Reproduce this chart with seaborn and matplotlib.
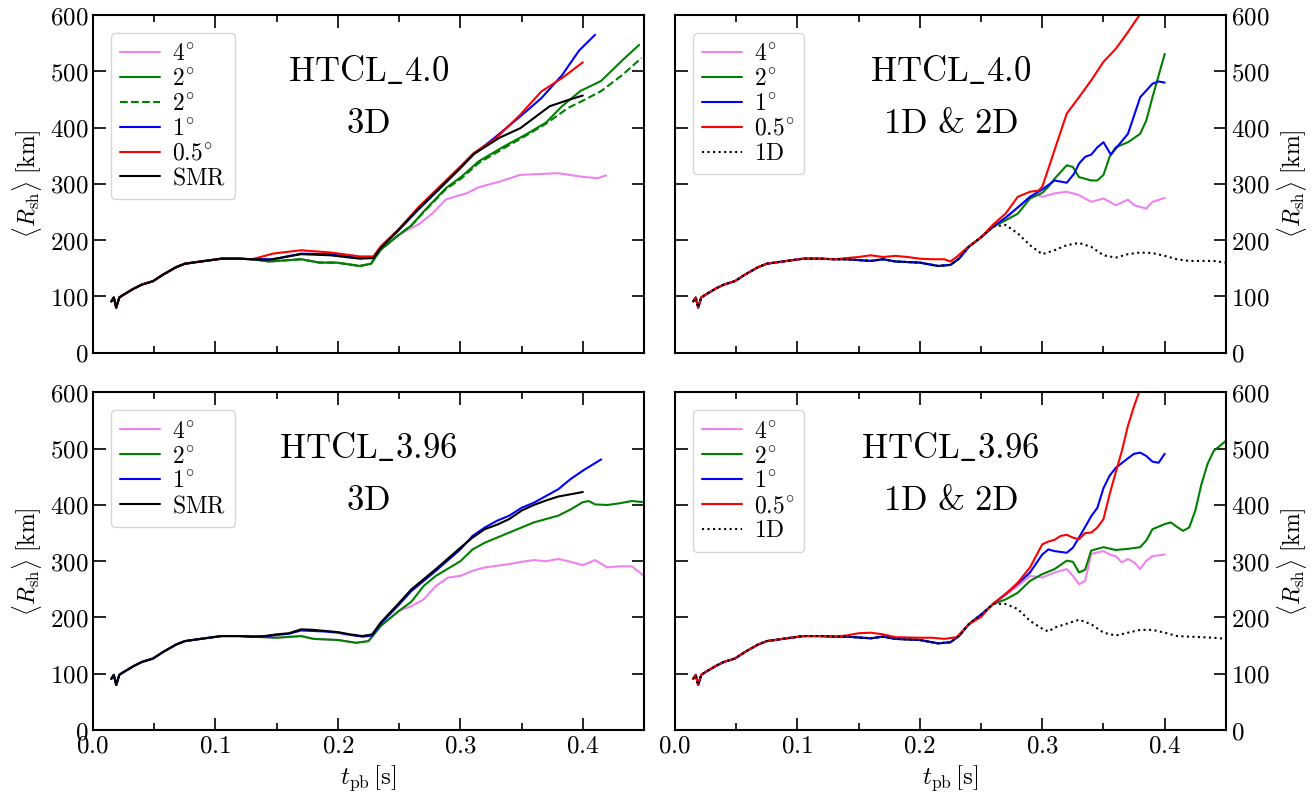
import matplotlib
matplotlib.use("Agg")
from matplotlib import pyplot as plt
from matplotlib.ticker import MultipleLocator, FuncFormatter
import seaborn as sns

# shared early phase (all runs identical)
t_base = [0.015, 0.017, 0.019, 0.0215, 0.025, 0.0335, 0.040, 0.049, 0.0575, 0.068, 0.075, 0.088, 0.105, 0.119, 0.13]
r_base = [91, 98, 80, 98, 103, 114, 121, 127, 139, 152, 158, 162, 167, 167, 166]

# HTCL_4.0 3D
tl_red_t = [0.147, 0.17, 0.194, 0.218, 0.229, 0.235, 0.249, 0.266, 0.283, 0.30, 0.311, 0.328, 0.349, 0.366, 0.383, 0.40]
tl_red_r = [176, 182, 178, 171, 171, 189, 218, 259, 295, 331, 355, 379, 423, 464, 488, 516]
tl_blue_t = [0.147, 0.17, 0.194, 0.218, 0.229, 0.235, 0.249, 0.266, 0.283, 0.30, 0.311, 0.328, 0.349, 0.366, 0.383, 0.397, 0.41]
tl_blue_r = [166, 176, 175, 168, 169, 187, 216, 255, 291, 328, 353, 382, 420, 452, 493, 537, 565]
tl_smr_t = [0.144, 0.17, 0.194, 0.218, 0.229, 0.235, 0.249, 0.266, 0.283, 0.30, 0.311, 0.332, 0.349, 0.373, 0.388, 0.40]
tl_smr_r = [165, 175, 173, 167, 168, 186, 217, 256, 292, 328, 353, 382, 399, 438, 449, 457]
tl_green_t = [0.144, 0.17, 0.185, 0.199, 0.218, 0.227, 0.235, 0.249, 0.26, 0.271, 0.288, 0.301, 0.315, 0.336, 0.353, 0.37, 0.383, 0.398, 0.415, 0.432, 0.446]
tl_green_r = [162, 166, 160, 160, 154, 158, 183, 208, 226, 253, 292, 313, 340, 367, 387, 409, 438, 465, 483, 519, 547]
tl_gdash_t = [0.144, 0.17, 0.185, 0.199, 0.218, 0.227, 0.235, 0.249, 0.26, 0.271, 0.288, 0.301, 0.315, 0.336, 0.353, 0.37, 0.388, 0.402, 0.415, 0.432, 0.448]
tl_gdash_r = [162, 166, 160, 160, 154, 158, 183, 208, 226, 252, 290, 310, 337, 364, 385, 407, 435, 450, 465, 493, 524]
tl_vio_t = [0.144, 0.17, 0.185, 0.199, 0.218, 0.227, 0.235, 0.249, 0.256, 0.266, 0.277, 0.288, 0.298, 0.305, 0.315, 0.332, 0.349, 0.37, 0.38, 0.398, 0.412, 0.419]
tl_vio_r = [162, 166, 160, 160, 154, 158, 183, 208, 217, 228, 247, 272, 279, 283, 294, 304, 316, 318, 319, 313, 310, 315]

# 1D & 2D: low plateau shared by 1D, 4, 2, 1 deg
low2d_t = [0.14, 0.16, 0.17, 0.18, 0.2, 0.215, 0.225, 0.232, 0.24, 0.25, 0.26]
low2d_r = [166, 163, 166, 162, 160, 154, 156, 167, 188, 205, 224]

# HTCL_4.0 1D & 2D
tr_red_t = [0.15, 0.16, 0.17, 0.18, 0.19, 0.2, 0.21, 0.22, 0.225, 0.23, 0.24, 0.25, 0.26, 0.27, 0.28, 0.29, 0.297, 0.30, 0.305, 0.31, 0.32, 0.33, 0.34, 0.35, 0.36, 0.37, 0.38]
tr_red_r = [170, 173, 170, 172, 170, 167, 166, 166, 162, 170, 189, 205, 228, 247, 277, 286, 288, 295, 327, 360, 425, 454, 484, 517, 540, 570, 602]
tr_green_t = [0.27, 0.28, 0.29, 0.30, 0.305, 0.31, 0.32, 0.325, 0.33, 0.34, 0.345, 0.35, 0.355, 0.36, 0.37, 0.38, 0.385, 0.39, 0.40]
tr_green_r = [235, 247, 274, 284, 295, 309, 333, 330, 312, 306, 306, 316, 348, 365, 374, 389, 413, 454, 531]
tr_blue_t = [0.27, 0.28, 0.29, 0.30, 0.31, 0.32, 0.326, 0.33, 0.335, 0.34, 0.345, 0.35, 0.356, 0.362, 0.37, 0.38, 0.39, 0.395, 0.40]
tr_blue_r = [240, 258, 277, 290, 306, 302, 318, 336, 348, 352, 365, 374, 352, 368, 389, 454, 478, 482, 480]
tr_vio_t = [0.27, 0.28, 0.29, 0.295, 0.30, 0.31, 0.32, 0.33, 0.34, 0.35, 0.36, 0.37, 0.375, 0.385, 0.39, 0.40]
tr_vio_r = [238, 258, 277, 281, 277, 283, 286, 280, 268, 274, 262, 272, 262, 256, 268, 275]
tr_1d_t = [0.27, 0.28, 0.29, 0.30, 0.31, 0.32, 0.33, 0.34, 0.35, 0.36, 0.37, 0.38, 0.39, 0.40, 0.41, 0.42, 0.44, 0.45]
tr_1d_r = [227, 212, 191, 175, 182, 191, 195, 188, 173, 169, 175, 178, 177, 172, 166, 163, 163, 160]

# HTCL_3.96 3D
bl_smr_t = [0.14, 0.15, 0.16, 0.17, 0.18, 0.19, 0.2, 0.21, 0.22, 0.228, 0.235, 0.25, 0.26, 0.28, 0.30, 0.31, 0.32, 0.33, 0.34, 0.35, 0.36, 0.37, 0.38, 0.39, 0.40]
bl_smr_r = [167, 170, 172, 179, 178, 176, 174, 170, 167, 170, 191, 226, 250, 286, 324, 342, 357, 365, 375, 390, 400, 408, 415, 419, 423]
bl_blue_t = [0.14, 0.15, 0.16, 0.17, 0.18, 0.19, 0.2, 0.21, 0.22, 0.228, 0.235, 0.25, 0.26, 0.28, 0.30, 0.31, 0.32, 0.33, 0.34, 0.35, 0.36, 0.37, 0.38, 0.39, 0.40, 0.415]
bl_blue_r = [166, 169, 171, 177, 176, 175, 173, 169, 166, 168, 189, 223, 247, 283, 321, 345, 360, 372, 381, 395, 404, 416, 428, 446, 461, 481]
bl_green_t = [0.14, 0.15, 0.17, 0.18, 0.2, 0.215, 0.225, 0.235, 0.25, 0.26, 0.27, 0.28, 0.30, 0.31, 0.32, 0.33, 0.34, 0.35, 0.36, 0.37, 0.38, 0.39, 0.40, 0.405, 0.41, 0.42, 0.43, 0.44, 0.45]
bl_green_r = [165, 164, 167, 162, 160, 155, 158, 185, 212, 228, 256, 274, 300, 321, 333, 342, 351, 360, 369, 375, 381, 392, 405, 407, 401, 400, 403, 407, 405]
bl_vio_t = [0.14, 0.15, 0.17, 0.18, 0.2, 0.215, 0.225, 0.235, 0.25, 0.26, 0.27, 0.28, 0.29, 0.30, 0.31, 0.32, 0.33, 0.34, 0.35, 0.36, 0.37, 0.38, 0.39, 0.40, 0.41, 0.42, 0.43, 0.44, 0.45]
bl_vio_r = [165, 164, 167, 162, 160, 155, 158, 185, 212, 220, 232, 256, 271, 274, 283, 289, 292, 295, 299, 302, 300, 304, 299, 293, 302, 289, 291, 291, 274]

# HTCL_3.96 1D & 2D
br_red_t = [0.14, 0.15, 0.16, 0.17, 0.18, 0.2, 0.21, 0.22, 0.23, 0.24, 0.25, 0.26, 0.27, 0.28, 0.29, 0.30, 0.305, 0.31, 0.315, 0.32, 0.325, 0.33, 0.335, 0.34, 0.345, 0.35, 0.355, 0.36, 0.365, 0.37, 0.375, 0.38]
br_red_r = [168, 172, 173, 170, 165, 164, 164, 162, 165, 188, 201, 225, 241, 262, 289, 330, 335, 338, 345, 347, 342, 339, 350, 351, 360, 375, 419, 458, 496, 541, 576, 606]
br_blue_t = [0.27, 0.28, 0.29, 0.30, 0.305, 0.31, 0.32, 0.325, 0.33, 0.34, 0.345, 0.35, 0.355, 0.36, 0.37, 0.375, 0.38, 0.385, 0.39, 0.395, 0.40]
br_blue_r = [242, 260, 280, 312, 321, 318, 315, 324, 342, 380, 395, 430, 452, 466, 483, 491, 493, 487, 477, 475, 491]
br_green_t = [0.27, 0.28, 0.29, 0.30, 0.31, 0.32, 0.325, 0.33, 0.335, 0.34, 0.35, 0.36, 0.37, 0.38, 0.385, 0.39, 0.40, 0.405, 0.41, 0.415, 0.42, 0.425, 0.43, 0.435, 0.44, 0.45]
br_green_r = [232, 244, 265, 277, 286, 301, 299, 280, 285, 319, 325, 320, 322, 325, 337, 357, 366, 369, 361, 354, 360, 390, 437, 473, 496, 514]
br_vio_t = [0.27, 0.28, 0.29, 0.30, 0.31, 0.32, 0.325, 0.33, 0.335, 0.34, 0.35, 0.355, 0.36, 0.365, 0.37, 0.375, 0.38, 0.385, 0.39, 0.40]
br_vio_r = [240, 256, 274, 271, 280, 286, 274, 259, 265, 313, 318, 312, 309, 298, 304, 298, 286, 301, 309, 312]
br_1d_t = [0.27, 0.28, 0.29, 0.30, 0.305, 0.31, 0.32, 0.33, 0.34, 0.35, 0.36, 0.37, 0.38, 0.39, 0.40, 0.41, 0.42, 0.44, 0.45]
br_1d_r = [224, 215, 194, 180, 175, 182, 189, 196, 188, 173, 168, 173, 178, 178, 173, 167, 166, 164, 162]

titles = [r"$\mathrm{HTCL\_4.0}$", r"$\mathrm{HTCL\_4.0}$", r"$\mathrm{HTCL\_3.96}$", r"$\mathrm{HTCL\_3.96}$"]
subtitles = [r"$\mathrm{3D}$", r"$\mathrm{1D\ &\ 2D}$", r"$\mathrm{3D}$", r"$\mathrm{1D\ &\ 2D}$"]

sns.set_theme(style="ticks")
plt.rcParams.update({
    "mathtext.fontset": "cm",
    "font.family": "serif",
    "font.serif": ["DejaVu Serif"],
    "axes.linewidth": 1.5,
    "text.color": "black",
    "axes.labelcolor": "black",
    "axes.edgecolor": "black",
    "xtick.color": "black",
    "ytick.color": "black",
})


def series(*parts):
    t, r = [], []
    for pt, pr in parts:
        t += list(pt)
        r += list(pr)
    return t, r


base = (t_base, r_base)
low = (low2d_t, low2d_r)
deg4, deg2, deg1, deg05 = r"$4^{\!\circ}$", r"$2^{\!\circ}$", r"$1^{\!\circ}$", r"$0.5^{\!\circ}$"

panels = [
    [  # top left
        ("violet", "-", deg4, series(base, (tl_vio_t, tl_vio_r))),
        ("green", "-", deg2, series(base, (tl_green_t, tl_green_r))),
        ("green", "--", deg2, series(base, (tl_gdash_t, tl_gdash_r))),
        ("blue", "-", deg1, series(base, (tl_blue_t, tl_blue_r))),
        ("red", "-", deg05, series(base, (tl_red_t, tl_red_r))),
        ("black", "-", r"$\mathrm{SMR}$", series(base, (tl_smr_t, tl_smr_r))),
    ],
    [  # top right
        ("violet", "-", deg4, series(base, low, (tr_vio_t, tr_vio_r))),
        ("green", "-", deg2, series(base, low, (tr_green_t, tr_green_r))),
        ("blue", "-", deg1, series(base, low, (tr_blue_t, tr_blue_r))),
        ("red", "-", deg05, series(base, (tr_red_t, tr_red_r))),
        ("black", ":", r"$\mathrm{1D}$", series(base, low, (tr_1d_t, tr_1d_r))),
    ],
    [  # bottom left
        ("violet", "-", deg4, series(base, (bl_vio_t, bl_vio_r))),
        ("green", "-", deg2, series(base, (bl_green_t, bl_green_r))),
        ("blue", "-", deg1, series(base, (bl_blue_t, bl_blue_r))),
        ("black", "-", r"$\mathrm{SMR}$", series(base, (bl_smr_t, bl_smr_r))),
    ],
    [  # bottom right
        ("violet", "-", deg4, series(base, low, (br_vio_t, br_vio_r))),
        ("green", "-", deg2, series(base, low, (br_green_t, br_green_r))),
        ("blue", "-", deg1, series(base, low, (br_blue_t, br_blue_r))),
        ("red", "-", deg05, series(base, (br_red_t, br_red_r))),
        ("black", ":", r"$\mathrm{1D}$", series(base, low, (br_1d_t, br_1d_r))),
    ],
]

fig, axes = plt.subplots(2, 2, figsize=(13.13, 7.94), dpi=100, sharex=True)
fig.subplots_adjust(left=0.0708, right=0.9337, bottom=0.0806, top=0.981, wspace=0.056, hspace=0.118)

for i, ax in enumerate(axes.flat):
    for color, ls, lab, (t, r) in panels[i]:
        sns.lineplot(x=t, y=r, ax=ax, color=color, linestyle=ls, linewidth=1.5,
                     label=lab, estimator=None, sort=False)
    ax.set_xlim(0, 0.45)
    ax.set_ylim(0, 600)
    ax.xaxis.set_major_locator(MultipleLocator(0.1))
    ax.xaxis.set_minor_locator(MultipleLocator(0.05))
    ax.yaxis.set_major_locator(MultipleLocator(100))
    ax.xaxis.set_major_formatter(FuncFormatter(lambda v, p: f"${v:.1f}$"))
    ax.yaxis.set_major_formatter(FuncFormatter(lambda v, p: f"${v:.0f}$"))
    ax.tick_params(which="both", direction="in", top=True, right=True, labelsize=18, width=1.2)
    ax.tick_params(which="major", length=9)
    ax.tick_params(which="minor", length=5)
    for s in ax.spines.values():
        s.set_linewidth(1.5)
        s.set_color("black")
    ax.set_ylabel(r"$\langle R_\mathrm{sh}\rangle\ [\mathrm{km}]$", fontsize=17)
    if i % 2 == 1:
        ax.tick_params(labelleft=False, labelright=True)
        ax.yaxis.set_label_position("right")
    if i >= 2:
        ax.set_xlabel(r"$t_\mathrm{pb}\,[\mathrm{s}]$", fontsize=18)
    ax.text(0.5, 0.835, titles[i], transform=ax.transAxes, ha="center", va="center", fontsize=25)
    ax.text(0.5, 0.68, subtitles[i], transform=ax.transAxes, ha="center", va="center", fontsize=25)
    ax.legend(loc="upper left", fontsize=17, handlelength=1.7, handletextpad=0.5,
              labelspacing=0.08, borderaxespad=0.75, borderpad=0.4)

fig.savefig("out.png", dpi=100)
